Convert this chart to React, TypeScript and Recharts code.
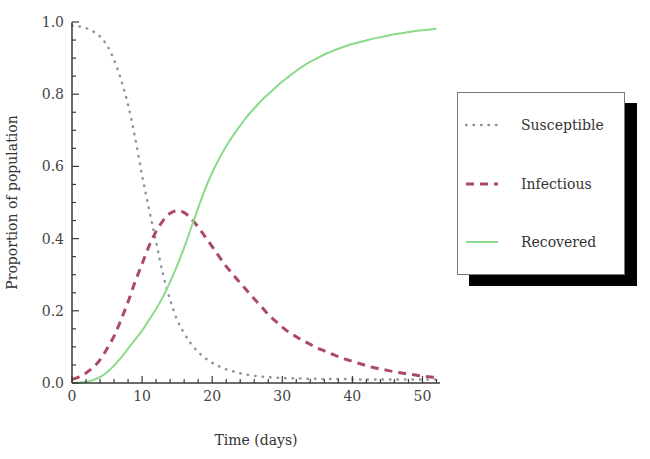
import { LineChart, Line, XAxis, YAxis, Legend } from "recharts";

// time in days
const DAYS = [
  0, 1, 2, 3, 4, 5, 6, 7, 8, 9, 10, 11, 12, 13, 14, 15, 16, 17, 18, 19, 20, 21, 22, 23, 24, 25, 26,
  27, 28, 29, 30, 31, 32, 33, 34, 35, 36, 37, 38, 39, 40, 41, 42, 43, 44, 45, 46, 47, 48, 49, 50,
  51, 52,
];

const SUSCEPTIBLE = [
  0.99, 0.988, 0.983, 0.974, 0.96, 0.935, 0.895, 0.84, 0.77, 0.68, 0.575, 0.48, 0.39, 0.3, 0.23,
  0.175, 0.138, 0.108, 0.086, 0.069, 0.056, 0.046, 0.038, 0.032, 0.027, 0.023, 0.02, 0.018, 0.016,
  0.015, 0.014, 0.013, 0.013, 0.012, 0.012, 0.012, 0.011, 0.011, 0.011, 0.011, 0.01, 0.01, 0.01,
  0.01, 0.01, 0.01, 0.01, 0.01, 0.01, 0.01, 0.01, 0.01, 0.01,
];

const INFECTIOUS = [
  0.01, 0.017, 0.028, 0.043, 0.064, 0.095, 0.13, 0.175, 0.225, 0.28, 0.33, 0.38, 0.42, 0.45, 0.47,
  0.477, 0.472, 0.455, 0.432, 0.405, 0.378, 0.35, 0.323, 0.3, 0.277, 0.255, 0.233, 0.212, 0.19,
  0.172, 0.155, 0.14, 0.128, 0.117, 0.107, 0.097, 0.089, 0.081, 0.073, 0.066, 0.06, 0.054, 0.048,
  0.043, 0.039, 0.035, 0.031, 0.028, 0.025, 0.022, 0.019, 0.017, 0.015,
];

const RECOVERED = [
  0, 0.001, 0.003, 0.008, 0.016, 0.03, 0.048, 0.07, 0.095, 0.12, 0.145, 0.175, 0.205, 0.24, 0.28,
  0.325, 0.375, 0.43, 0.485, 0.537, 0.583, 0.622, 0.656, 0.686, 0.713, 0.739, 0.761, 0.782, 0.8,
  0.818, 0.835, 0.85, 0.865, 0.878, 0.89, 0.9, 0.91, 0.918, 0.926, 0.933, 0.939, 0.944, 0.949,
  0.954, 0.958, 0.962, 0.966, 0.969, 0.972, 0.975, 0.977, 0.979, 0.981,
];

const X_TICKS = [
  0, 2, 4, 6, 8, 10, 12, 14, 16, 18, 20, 22, 24, 26, 28, 30, 32, 34, 36, 38, 40, 42, 44, 46, 48, 50,
  52,
];
const X_LABELS = [0, 10, 20, 30, 40, 50];
const Y_TICKS = [
  0, 0.05, 0.1, 0.15, 0.2, 0.25, 0.3, 0.35, 0.4, 0.45, 0.5, 0.55, 0.6, 0.65, 0.7, 0.75, 0.8, 0.85,
  0.9, 0.95, 1,
];
const Y_LABELS = [0, 0.2, 0.4, 0.6, 0.8, 1];

const data = DAYS.map((t, i) => ({
  t,
  susceptible: SUSCEPTIBLE[i],
  infectious: INFECTIOUS[i],
  recovered: RECOVERED[i],
}));

const FONT = "'DejaVu Serif', serif";
const AXIS_COLOR = "#3a3a3a";
const TEXT_COLOR = "#444";
const TICK_MARGIN = 8;

const SERIES = [
  { key: "susceptible", name: "Susceptible", color: "#9292a2", width: 2.5, dash: "0.5 7" },
  { key: "infectious", name: "Infectious", color: "#ac4a62", width: 3, dash: "8 6" },
  { key: "recovered", name: "Recovered", color: "#8ada8a", width: 2, dash: undefined },
];

const isIn = (list: number[], v: number) => list.some((m) => Math.abs(m - v) < 1e-9);

const YTick = (props: any) => {
  const { x, y, payload } = props;
  const v = payload.value;
  const major = isIn(Y_LABELS, v);
  const ax = x + TICK_MARGIN;
  return (
    <g>
      <line x1={ax} x2={ax + (major ? 7 : 4)} y1={y} y2={y} stroke={AXIS_COLOR} strokeWidth={1.2} />
      {major && (
        <text x={x} y={y} dy="0.36em" textAnchor="end" fill={TEXT_COLOR} fontSize={14} fontFamily={FONT}>
          {v.toFixed(1)}
        </text>
      )}
    </g>
  );
};

const XTick = (props: any) => {
  const { x, y, payload } = props;
  const v = payload.value;
  const major = isIn(X_LABELS, v);
  const ay = y - TICK_MARGIN;
  return (
    <g>
      <line x1={x} x2={x} y1={ay} y2={ay - (major ? 7 : 4)} stroke={AXIS_COLOR} strokeWidth={1.2} />
      {major && (
        <text x={x} y={y} dy="0.71em" textAnchor="middle" fill={TEXT_COLOR} fontSize={14} fontFamily={FONT}>
          {v}
        </text>
      )}
    </g>
  );
};

const LegendBox = () => (
  <div
    style={{
      width: 166,
      height: 181,
      border: "1.5px solid #7a7a7a",
      background: "#fff",
      boxShadow: "12px 11px 0 #000",
      fontFamily: FONT,
      fontSize: 14,
      color: "#333",
      position: "relative",
    }}
  >
    {SERIES.map((s, i) => (
      <div
        key={s.key}
        style={{ position: "absolute", left: 7, top: 22 + i * 58.5, display: "flex", alignItems: "center" }}
      >
        <svg width={34} height={20}>
          <line
            x1={1}
            x2={33}
            y1={10}
            y2={10}
            stroke={s.color}
            strokeWidth={s.width}
            strokeDasharray={s.dash}
            strokeLinecap={s.key === "susceptible" ? "round" : "butt"}
          />
        </svg>
        <span style={{ marginLeft: 22 }}>{s.name}</span>
      </div>
    ))}
  </div>
);

export default function App() {
  return (
    <div style={{ position: "absolute", left: 0, top: 0, width: 650, height: 459, background: "#fff" }}>
      <LineChart width={650} height={459} data={data} margin={{ top: 22, right: 210, bottom: 14, left: 0 }}>
        <XAxis
          dataKey="t"
          type="number"
          domain={[0, 52.5]}
          ticks={X_TICKS}
          interval={0}
          tickSize={0}
          tickMargin={TICK_MARGIN}
          tick={<XTick />}
          axisLine={{ stroke: AXIS_COLOR, strokeWidth: 1.5 }}
          height={62}
          label={{
            value: "Time (days)",
            position: "insideBottom",
            offset: 0,
            style: { fontFamily: FONT, fontSize: 14, fill: "#333" },
          }}
        />
        <YAxis
          type="number"
          domain={[0, 1]}
          ticks={Y_TICKS}
          interval={0}
          width={72}
          tickSize={0}
          tickMargin={TICK_MARGIN}
          tick={<YTick />}
          axisLine={{ stroke: AXIS_COLOR, strokeWidth: 1.5 }}
          label={{
            value: "Proportion of population",
            angle: -90,
            position: "insideLeft",
            offset: 12,
            style: { textAnchor: "middle", fontFamily: FONT, fontSize: 14, fill: "#333" },
          }}
        />
        {SERIES.map((s) => (
          <Line
            key={s.key}
            dataKey={s.key}
            name={s.name}
            type="monotone"
            stroke={s.color}
            strokeWidth={s.width}
            strokeDasharray={s.dash}
            strokeLinecap={s.key === "susceptible" ? "round" : "butt"}
            dot={false}
            isAnimationActive={false}
          />
        ))}
        <Legend
          layout="vertical"
          align="center"
          verticalAlign="middle"
          content={<LegendBox />}
          wrapperStyle={{ position: "absolute", left: 457, top: 92, width: 170, height: 185 }}
        />
      </LineChart>
    </div>
  );
}
